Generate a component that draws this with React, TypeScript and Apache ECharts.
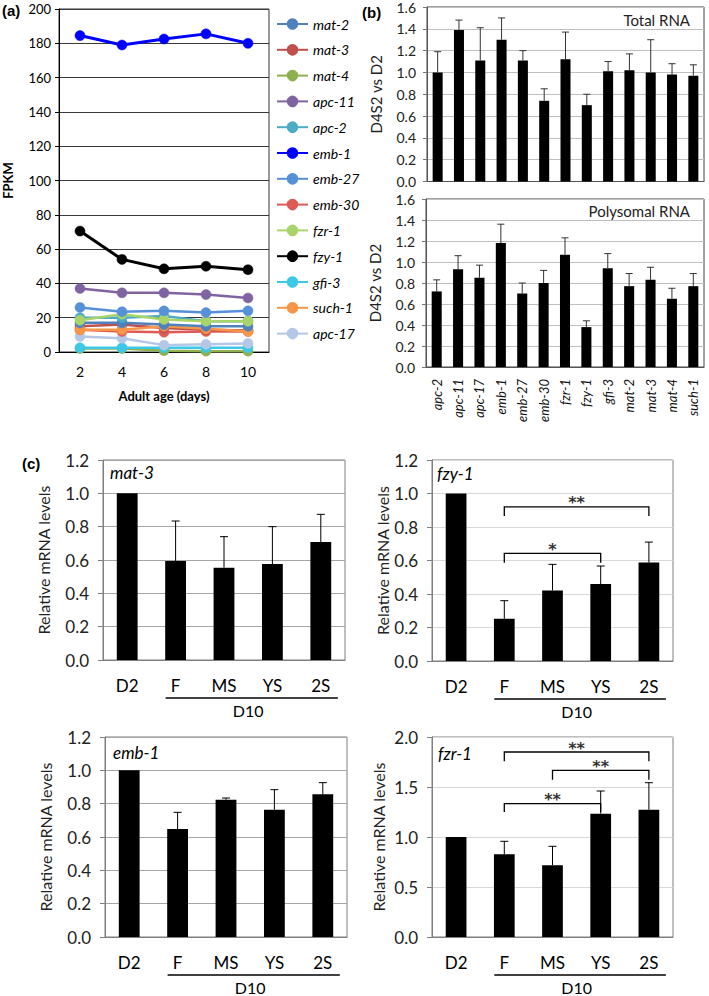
import React, { useEffect, useRef } from "react";
import * as echarts from "echarts";

const FONT = 'Lato, "Open Sans", "DejaVu Sans", sans-serif';
const LABEL_FONT = '"Liberation Sans", Arial, sans-serif';

// ---------- Panel (a): FPKM over adult age ----------
const days = ["2", "4", "6", "8", "10"];
const legendOrder = ["mat-2", "mat-3", "mat-4", "apc-11", "apc-2", "emb-1", "emb-27", "emb-30", "fzr-1", "fzy-1", "gfi-3", "such-1", "apc-17"];
const mat2 = [17, 17, 16, 15, 15];
const mat3 = [15, 16, 14, 13, 12.5];
const mat4 = [2, 2, 0.8, 0.5, 0.5];
const apc11 = [37, 34.5, 34.5, 33.5, 31.5];
const apc2 = [20, 20, 21, 18, 18];
const emb1 = [184.5, 179, 182.5, 185.5, 180];
const emb27 = [26, 23.5, 24, 23, 24];
const emb30 = [13, 12, 11.5, 12, 12];
const fzr1 = [18.5, 22, 19, 18, 18];
const fzy1 = [70.5, 54, 48.5, 50, 48];
const gfi3 = [2.5, 2.5, 2.5, 2.5, 2.5];
const such1 = [13, 13, 15, 13.5, 12];
const apc17 = [9, 8, 4, 4.5, 5];
const fpkmTicks = { min: 0, max: 200, interval: 20 };

const lineColors: Record<string, string> = {
  "mat-2": "#4F81BD",
  "mat-3": "#C0504D",
  "mat-4": "#8FB04E",
  "apc-11": "#8064A2",
  "apc-2": "#4BACC6",
  "emb-1": "#0000FF",
  "emb-27": "#5590D8",
  "emb-30": "#DE5A55",
  "fzr-1": "#A8D46A",
  "fzy-1": "#000000",
  "gfi-3": "#3CC8E6",
  "such-1": "#F79646",
  "apc-17": "#B4C7E7",
};
const lineData: Record<string, number[]> = {
  "mat-2": mat2, "mat-3": mat3, "mat-4": mat4, "apc-11": apc11, "apc-2": apc2,
  "emb-1": emb1, "emb-27": emb27, "emb-30": emb30, "fzr-1": fzr1, "fzy-1": fzy1,
  "gfi-3": gfi3, "such-1": such1, "apc-17": apc17,
};

// ---------- Panel (b): D4S2 vs D2 ----------
const genesB = ["apc-2", "apc-11", "apc-17", "emb-1", "emb-27", "emb-30", "fzr-1", "fzy-1", "gfi-3", "mat-2", "mat-3", "mat-4", "such-1"];
const totalMean = [1.0, 1.39, 1.11, 1.3, 1.11, 0.74, 1.12, 0.7, 1.01, 1.02, 1.0, 0.98, 0.97];
const totalErr = [0.19, 0.09, 0.3, 0.2, 0.09, 0.11, 0.25, 0.1, 0.09, 0.15, 0.3, 0.1, 0.1];
const polyMean = [0.72, 0.93, 0.85, 1.18, 0.7, 0.8, 1.07, 0.38, 0.94, 0.77, 0.83, 0.65, 0.77];
const polyErr = [0.11, 0.13, 0.12, 0.18, 0.1, 0.12, 0.16, 0.06, 0.14, 0.12, 0.12, 0.1, 0.12];

// ---------- Panel (c): relative mRNA levels ----------
const conds = ["D2", "F", "MS", "YS", "2S"];
const d10Group = [1, 4];
const mat3Mean = [1.0, 0.594, 0.554, 0.576, 0.708];
const mat3Err = [0, 0.24, 0.186, 0.224, 0.166];
const fzy1Mean = [1.0, 0.252, 0.421, 0.459, 0.588];
const fzy1Err = [0, 0.108, 0.156, 0.108, 0.122];
const emb1Mean = [1.0, 0.648, 0.824, 0.764, 0.856];
const emb1Err = [0, 0.1, 0.01, 0.12, 0.07];
const fzr1Mean = [1.0, 0.827, 0.717, 1.233, 1.273];
const fzr1Err = [0, 0.13, 0.19, 0.227, 0.27];
// brackets: [fromIndex, toIndex, barY, legY]
const fzy1Brackets = [[1, 4, 0.92, 0.865], [1, 3, 0.642, 0.586]];
const fzy1Stars = ["**", "*"];
const fzr1Brackets = [[1, 4, 1.85, 1.757], [2, 4, 1.667, 1.573], [1, 3, 1.333, 1.25]];
const fzr1Stars = ["**", "**", "**"];

function errorSeries(idx: number, means: number[], errs: number[], cap: number, color: string) {
  return {
    type: "custom",
    xAxisIndex: idx,
    yAxisIndex: idx,
    silent: true,
    clip: false,
    z: 5,
    itemStyle: { color },
    data: means.map((m, i) => [i, m, m + errs[i], errs[i]]),
    renderItem: (_p: any, api: any) => {
      if (api.value(3) <= 0) return { type: "group", children: [] };
      const b = api.coord([api.value(0), api.value(1)]);
      const t = api.coord([api.value(0), api.value(2)]);
      return {
        type: "group",
        children: [
          { type: "line", shape: { x1: b[0], y1: b[1], x2: t[0], y2: t[1] }, style: { stroke: color, lineWidth: 1 } },
          { type: "line", shape: { x1: t[0] - cap, y1: t[1], x2: t[0] + cap, y2: t[1] }, style: { stroke: color, lineWidth: 1 } },
        ],
      };
    },
  };
}

function bracketSeries(idx: number, brackets: number[][], stars: string[]) {
  return {
    type: "custom",
    xAxisIndex: idx,
    yAxisIndex: idx,
    silent: true,
    clip: false,
    z: 6,
    itemStyle: { color: "#222" },
    data: brackets,
    renderItem: (p: any, api: any) => {
      const a = api.coord([api.value(0), api.value(3)]);
      const b = api.coord([api.value(0), api.value(2)]);
      const c = api.coord([api.value(1), api.value(2)]);
      const d = api.coord([api.value(1), api.value(3)]);
      return {
        type: "group",
        children: [
          { type: "polyline", shape: { points: [a, b, c, d] }, style: { stroke: "#000", lineWidth: 1.3, fill: null } },
          {
            type: "text",
            x: (b[0] + c[0]) / 2,
            y: b[1] + 4,
            style: {
              text: stars[p.dataIndex], fontSize: 16, fontWeight: "bold",
              fontFamily: '"DejaVu Sans", sans-serif', fill: "#333",
              align: "center", verticalAlign: "bottom",
            },
          },
        ],
      };
    },
  };
}

function groupLineSeries(idx: number) {
  return {
    type: "custom",
    xAxisIndex: idx,
    yAxisIndex: idx,
    silent: true,
    clip: false,
    itemStyle: { color: "#000" },
    data: [d10Group],
    renderItem: (_p: any, api: any) => {
      const s = api.coord([api.value(0), 0]);
      const e = api.coord([api.value(1), 0]);
      const m1 = api.coord([2, 0]);
      const m2 = api.coord([3, 0]);
      const y = s[1] + 38;
      return {
        type: "group",
        children: [
          { type: "line", shape: { x1: s[0] - 10, y1: y, x2: e[0] + 17, y2: y }, style: { stroke: "#000", lineWidth: 1.5 } },
          {
            type: "text",
            x: (m1[0] + m2[0]) / 2,
            y: y + 12,
            style: { text: "D10", fontSize: 16, fontFamily: FONT, fill: "#000", align: "center", verticalAlign: "middle" },
          },
        ],
      };
    },
  };
}

const grids = [
  { left: 58, top: 9, width: 211, height: 343, borderColor: "#333" },
  { left: 427, top: 6.5, width: 277, height: 175, borderColor: "#444" },
  { left: 426, top: 199, width: 278, height: 168, borderColor: "#444" },
  { left: 103, top: 460, width: 242, height: 200, borderColor: "#7f7f7f" },
  { left: 432, top: 460, width: 241, height: 201, borderColor: "#7f7f7f" },
  { left: 105, top: 737, width: 242, height: 200, borderColor: "#7f7f7f" },
  { left: 432, top: 737, width: 241, height: 200, borderColor: "#7f7f7f" },
];

function buildOption() {
  const fmt1 = (v: number) => v.toFixed(1);
  const xAxes: any[] = [
    {
      gridIndex: 0, type: "category", data: days, boundaryGap: true,
      axisLine: { lineStyle: { color: "#000", width: 1 } }, axisTick: { show: false },
      axisLabel: { fontSize: 14, color: "#000", margin: 12, fontFamily: FONT },
      name: "Adult age (days)", nameLocation: "middle", nameGap: 37,
      nameTextStyle: { fontWeight: "bold", fontSize: 13, color: "#000", fontFamily: FONT },
    },
    {
      gridIndex: 1, type: "category", data: genesB, axisLabel: { show: false },
      axisLine: { lineStyle: { color: "#555" } }, axisTick: { show: false },
    },
    {
      gridIndex: 2, type: "category", data: genesB,
      axisLine: { lineStyle: { color: "#555" } }, axisTick: { show: false },
      axisLabel: { rotate: 90, interval: 0, fontStyle: "italic", fontSize: 13, color: "#111", margin: 12, fontFamily: FONT },
    },
  ];
  for (let i = 3; i <= 6; i++) {
    xAxes.push({
      gridIndex: i, type: "category", data: conds,
      axisLine: { lineStyle: { color: "#7f7f7f" } }, axisTick: { show: false },
      axisLabel: { fontSize: 17, color: "#000", margin: 17, interval: 0, fontFamily: FONT },
    });
  }
  const yAxes: any[] = [
    {
      gridIndex: 0, type: "value", ...fpkmTicks,
      axisLine: { show: true, lineStyle: { color: "#000" } },
      axisTick: { show: true, length: 4, lineStyle: { color: "#000" } },
      axisLabel: { fontSize: 13, color: "#000", margin: 8, fontFamily: FONT },
      splitLine: { lineStyle: { color: "#3a3a3a", width: 1 } },
      name: "FPKM", nameLocation: "middle", nameGap: 45,
      nameTextStyle: { fontWeight: "bold", fontSize: 13, color: "#000", fontFamily: FONT },
    },
  ];
  for (const gi of [1, 2]) {
    yAxes.push({
      gridIndex: gi, type: "value", min: 0, max: 1.6, interval: 0.2,
      axisLine: { show: true, lineStyle: { color: "#555" } },
      axisTick: { show: true, length: 4, lineStyle: { color: "#777" } },
      axisLabel: { fontSize: 14, color: "#222", margin: 11, formatter: fmt1, fontFamily: FONT },
      splitLine: { lineStyle: { color: "#BFBFBF", width: 1 } },
      name: "D4S2 vs D2", nameLocation: "middle", nameGap: 44,
      nameTextStyle: { fontSize: 15, color: "#222", fontFamily: FONT },
    });
  }
  const cAx = [
    { gi: 3, max: 1.2, interval: 0.2, grid: "#A6A6A6", gap: 52 },
    { gi: 4, max: 1.2, interval: 0.2, grid: "#D9D9D9", gap: 42 },
    { gi: 5, max: 1.2, interval: 0.2, grid: "#A6A6A6", gap: 52 },
    { gi: 6, max: 2.0, interval: 0.5, grid: "#D9D9D9", gap: 46 },
  ];
  for (const c of cAx) {
    yAxes.push({
      gridIndex: c.gi, type: "value", min: 0, max: c.max, interval: c.interval,
      axisLine: { show: true, lineStyle: { color: "#7f7f7f" } },
      axisTick: { show: true, length: 5, lineStyle: { color: "#7f7f7f" } },
      axisLabel: { fontSize: 17, color: "#222", margin: 14, formatter: fmt1, fontFamily: FONT },
      splitLine: { lineStyle: { color: c.grid, width: 1 } },
      name: "Relative mRNA levels", nameLocation: "middle", nameGap: c.gap,
      nameTextStyle: { fontSize: 16, color: "#222", fontFamily: FONT },
    });
  }

  const drawOrder = ["mat-4", "gfi-3", "apc-17", "emb-30", "mat-3", "such-1", "mat-2", "apc-2", "fzr-1", "emb-27", "apc-11", "fzy-1", "emb-1"];
  const lineSeries = drawOrder.map((name, k) => ({
    type: "line", name, xAxisIndex: 0, yAxisIndex: 0, data: lineData[name],
    symbol: "circle", symbolSize: 10, z: 2 + k * 0.01,
    lineStyle: { width: name === "emb-1" || name === "fzy-1" ? 3 : 2.5, color: lineColors[name] },
    itemStyle: { color: lineColors[name], borderColor: lineColors[name], borderWidth: 0.5 },
  }));

  const bar = (idx: number, name: string, data: number[], width: string) => ({
    type: "bar", name, xAxisIndex: idx, yAxisIndex: idx, data, barWidth: width,
    itemStyle: { color: "#000" }, silent: true,
  });

  const series: any[] = [
    ...lineSeries,
    bar(1, "Total bars", totalMean, "47%"),
    errorSeries(1, totalMean, totalErr, 3.5, "#333"),
    bar(2, "Polysomal bars", polyMean, "47%"),
    errorSeries(2, polyMean, polyErr, 3.5, "#333"),
    bar(3, "c mat3", mat3Mean, "43%"),
    errorSeries(3, mat3Mean, mat3Err, 4, "#000"),
    groupLineSeries(3),
    bar(4, "c fzy1", fzy1Mean, "43%"),
    errorSeries(4, fzy1Mean, fzy1Err, 4, "#000"),
    bracketSeries(4, fzy1Brackets, fzy1Stars),
    groupLineSeries(4),
    bar(5, "c emb1", emb1Mean, "43%"),
    errorSeries(5, emb1Mean, emb1Err, 4, "#000"),
    groupLineSeries(5),
    bar(6, "c fzr1", fzr1Mean, "43%"),
    errorSeries(6, fzr1Mean, fzr1Err, 4, "#000"),
    bracketSeries(6, fzr1Brackets, fzr1Stars),
    groupLineSeries(6),
  ];

  const txt = (text: string, x: number, y: number, size: number, extra: any = {}) => ({
    type: "text", x, y,
    style: { text, fontSize: size, fontFamily: FONT, fill: "#000", verticalAlign: "middle", ...extra },
  });

  return {
    animation: false,
    backgroundColor: "#fff",
    textStyle: { fontFamily: FONT },
    grid: grids.map((g) => ({ ...g, show: true, borderWidth: 1, backgroundColor: "transparent" })),
    legend: {
      data: legendOrder,
      orient: "vertical",
      left: 271,
      top: 11,
      itemWidth: 31,
      itemHeight: 12,
      itemGap: 9.8,
      selectedMode: false,
      textStyle: { fontStyle: "italic", fontSize: 14, color: "#000", lineHeight: 16, fontFamily: FONT },
    },
    xAxis: xAxes,
    yAxis: yAxes,
    series,
    graphic: [
      txt("(a)", 2, 10, 15, { fontWeight: "bold", fontFamily: LABEL_FONT }),
      txt("(b)", 362, 12, 15, { fontWeight: "bold", fontFamily: LABEL_FONT }),
      txt("(c)", 22, 463, 15, { fontWeight: "bold", fontFamily: LABEL_FONT }),
      txt("Total RNA", 690, 20, 15, { align: "right", fill: "#222" }),
      txt("Polysomal RNA", 690, 211, 15, { align: "right", fill: "#222" }),
      txt("mat-3", 110, 472, 17, { fontStyle: "italic" }),
      txt("fzy-1", 437, 473, 17, { fontStyle: "italic" }),
      txt("emb-1", 113, 752, 17, { fontStyle: "italic" }),
      txt("fzr-1", 438, 753, 17, { fontStyle: "italic" }),
    ],
  };
}

export default function App() {
  const ref = useRef<HTMLDivElement>(null);
  useEffect(() => {
    if (!ref.current) return;
    const chart = echarts.init(ref.current, undefined, { renderer: "svg" });
    chart.setOption(buildOption() as any);
    return () => chart.dispose();
  }, []);
  return (
    <div
      ref={ref}
      style={{ position: "absolute", left: 0, top: 0, width: 709, height: 996, background: "#fff" }}
    />
  );
}
